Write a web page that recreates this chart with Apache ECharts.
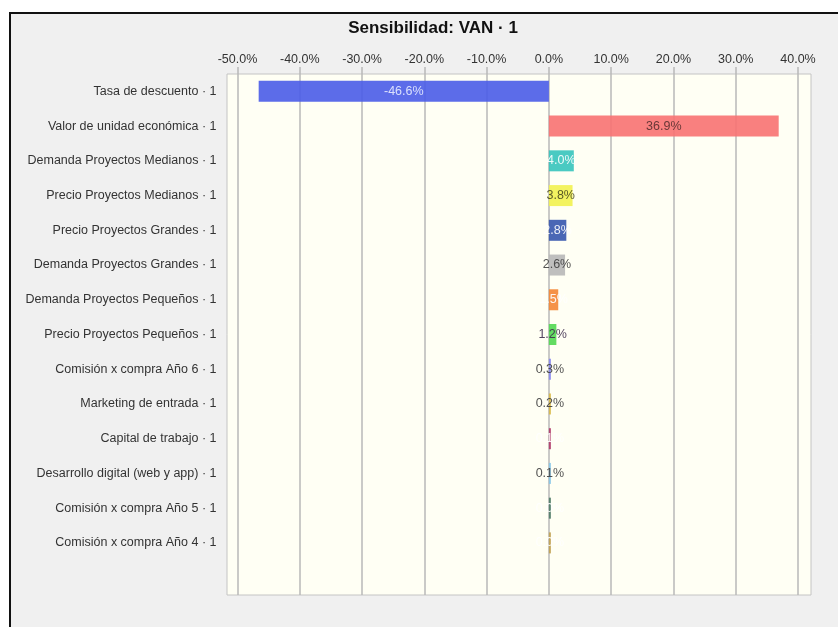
<!DOCTYPE html>
<html>
<head>
<meta charset="utf-8">
<script src="https://cdn.jsdelivr.net/npm/echarts@6/dist/echarts.min.js"></script>
<style>
body { margin: 0; background: #fff; }
#frame {
  position: absolute; left: 9px; top: 12px; right: 0; bottom: 0;
  border-top: 2px solid #111; border-left: 2px solid #111;
  background: #f0f0f0;
}
#main { position: absolute; left: 0; top: 0; width: 838px; height: 627px; }
</style>
</head>
<body>
<div id="frame"></div>
<div id="main"></div>
<script>
// inputs, sorted as in the tornado
var categories = [
  "Tasa de descuento · 1",
  "Valor de unidad económica · 1",
  "Demanda Proyectos Medianos · 1",
  "Precio Proyectos Medianos · 1",
  "Precio Proyectos Grandes · 1",
  "Demanda Proyectos Grandes · 1",
  "Demanda Proyectos Pequeños · 1",
  "Precio Proyectos Pequeños · 1",
  "Comisión x compra Año 6 · 1",
  "Marketing de entrada · 1",
  "Capital de trabajo · 1",
  "Desarrollo digital (web y app) · 1",
  "Comisión x compra Año 5 · 1",
  "Comisión x compra Año 4 · 1"
];
// change in VAN, %
var values = [-46.6, 36.9, 4.0, 3.8, 2.8, 2.6, 1.5, 1.2, 0.3, 0.2, 0.15, 0.1, 0.02, 0.01];
var xTicks = [-50, 40, 10]; // min, max, step

var barColors = ["#4a5ce8", "#f87272", "#36c4bc", "#f2f250", "#3656ae", "#b8b8b8", "#f48634",
  "#52d852", "#8686ee", "#d8b846", "#b03868", "#86c6e8", "#4e7a66", "#c0a050"];
var labelColors = ["#e8ecff", "#5a3030", "#ffffff", "#4a4a20", "#ffffff", "#404040", "#ffffff",
  "#403050", "#404040", "#404040", "#ffffff", "#404040", "#ffffff", "#ffffff"];

var chart = echarts.init(document.getElementById("main"));
var font = "'Liberation Sans', Arial, sans-serif";

var rows = categories.concat([""]);
var barData = values.map(function (v, i) {
  return {
    value: v,
    itemStyle: { color: barColors[i], opacity: 0.9 },
    label: { color: labelColors[i] }
  };
});

chart.setOption({
  animation: false,
  title: {
    text: "Sensibilidad: VAN · 1",
    left: 428, top: 15, textAlign: "center",
    textStyle: { fontFamily: font, fontSize: 17, fontWeight: "bold", color: "#111" }
  },
  grid: [
    { left: 227, right: 27, top: 74, bottom: 32, show: true,
      backgroundColor: "#fffff4", borderColor: "#c4c4c4", borderWidth: 1 },
    { left: 237.5, right: 40, top: 74, bottom: 32 }
  ],
  xAxis: [
    { gridIndex: 0, type: "value", show: false },
    { gridIndex: 1, type: "value", position: "top",
      min: xTicks[0], max: xTicks[1], interval: xTicks[2],
      axisLine: { show: false },
      axisTick: { show: true, inside: false, length: 7, lineStyle: { color: "#b8b8b8", width: 1.5 } },
      splitLine: { show: true, lineStyle: { color: "#b8b8b8", width: 1.5 } },
      axisLabel: { margin: 8, fontFamily: font, fontSize: 12.5, color: "#333",
        formatter: function (v) { return v.toFixed(1) + "%"; } } }
  ],
  yAxis: [
    { gridIndex: 0, type: "value", show: false },
    { gridIndex: 1, type: "category", inverse: true, data: rows,
      axisLine: { show: false }, axisTick: { show: false },
      axisLabel: { margin: 21, fontFamily: font, fontSize: 12.5, color: "#333" } }
  ],
  series: [{
    type: "bar",
    xAxisIndex: 1, yAxisIndex: 1,
    data: barData,
    barWidth: 21,
    barMinHeight: 2,
    label: {
      show: true, position: "inside", fontFamily: font, fontSize: 12.5,
      formatter: function (p) { return p.value.toFixed(1) + "%"; }
    }
  }]
});
</script>
</body>
</html>
